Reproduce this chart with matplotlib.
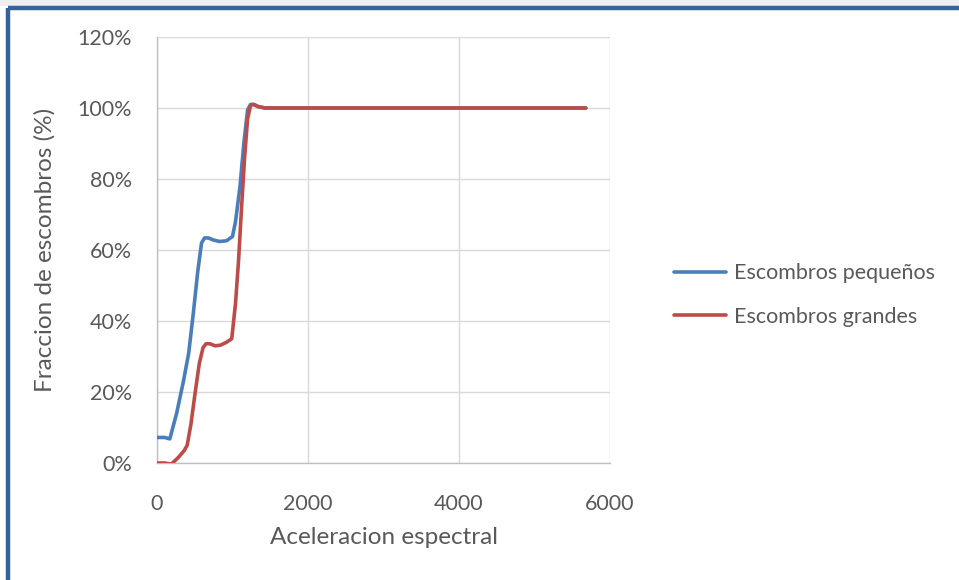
import matplotlib
matplotlib.use("Agg")
import matplotlib.pyplot as plt
from matplotlib.patches import Rectangle
from matplotlib.lines import Line2D
from matplotlib.ticker import FuncFormatter

plt.rcParams['font.family'] = ['Lato', 'DejaVu Sans']

# --- values (x: aceleracion, y: fraccion %) ---
x_pequenos = [0, 100, 170, 260, 350, 420, 480, 540, 590, 630, 680, 750, 830, 920,
              1000, 1040, 1100, 1150, 1200, 1240, 1280, 1340, 1430, 2000, 4000, 5680]
y_pequenos = [7.2, 7.2, 6.8, 14.0, 23.0, 31.0, 42.0, 54.0, 62.0, 63.4, 63.4, 62.8, 62.4, 62.6,
              63.8, 68.0, 78.0, 90.0, 99.5, 101.0, 101.0, 100.4, 100.0, 100.0, 100.0, 100.0]

x_grandes = [0, 100, 190, 280, 360, 400, 450, 500, 560, 610, 650, 700, 770, 840, 920,
             990, 1040, 1080, 1120, 1160, 1200, 1240, 1280, 1340, 1430, 2000, 4000, 5680]
y_grandes = [0.0, 0.0, -0.3, 1.5, 3.5, 5.0, 11.0, 19.0, 28.0, 32.5, 33.6, 33.6, 33.0, 33.2, 34.0,
             35.0, 45.0, 57.0, 72.0, 86.0, 97.0, 100.8, 101.0, 100.4, 100.0, 100.0, 100.0, 100.0]

series_names = ['Escombros pequeños', 'Escombros grandes']
series_colors = ['#4A7EBB', '#BE4B48']
x_ticks = [0, 2000, 4000, 6000]
y_ticks = [0, 20, 40, 60, 80, 100, 120]

text_color = '#595959'
grid_color = '#D9D9D9'

fig = plt.figure(figsize=(9.59, 5.80), dpi=100)
fig.patch.set_facecolor('white')

# light strip on top and blue frame (top + left visible)
fig.patches.append(Rectangle((0, 1 - 6 / 580), 1, 6 / 580, transform=fig.transFigure,
                             facecolor='#EFEFEF', edgecolor='none', zorder=0))
fig.lines.append(Line2D([8 / 959, 8 / 959], [0, 1 - 8 / 580], transform=fig.transFigure,
                        color='#35629A', linewidth=3.2, solid_capstyle='butt'))
fig.lines.append(Line2D([8 / 959, 1], [1 - 8 / 580, 1 - 8 / 580], transform=fig.transFigure,
                        color='#35629A', linewidth=3.2, solid_capstyle='butt'))

ax = fig.add_axes([157 / 959, 1 - 463 / 580, (610 - 157) / 959, (463 - 37) / 580])

ax.plot(x_pequenos, y_pequenos, color=series_colors[0], linewidth=2.6,
        label=series_names[0], solid_joinstyle='round', solid_capstyle='round', zorder=3)
ax.plot(x_grandes, y_grandes, color=series_colors[1], linewidth=2.6,
        label=series_names[1], solid_joinstyle='round', solid_capstyle='round', zorder=4)

ax.set_xlim(0, 6000)
ax.set_ylim(0, 120)
ax.set_xticks(x_ticks)
ax.set_yticks(y_ticks)
ax.yaxis.set_major_formatter(FuncFormatter(lambda v, p: f"{v:.0f}%"))
ax.grid(True, color=grid_color, linewidth=1.0)
ax.set_axisbelow(True)

for side in ['top', 'right']:
    ax.spines[side].set_visible(False)
for side in ['left', 'bottom']:
    ax.spines[side].set_color('#BFBFBF')
    ax.spines[side].set_linewidth(1.0)

ax.tick_params(axis='both', length=0, colors=text_color, labelsize=15.5)
ax.tick_params(axis='x', pad=22)
ax.tick_params(axis='y', pad=18)

ax.set_xlabel('Aceleracion espectral', fontsize=17.5, color=text_color, labelpad=10)
ax.set_ylabel('Fraccion de escombros (%)', fontsize=17.5, color=text_color, labelpad=16)

leg = ax.legend(loc='center left', bbox_to_anchor=(655 / 959, 1 - 295 / 580),
                bbox_transform=fig.transFigure, frameon=False, fontsize=15.5,
                labelcolor=text_color, handlelength=2.4, handletextpad=0.35,
                labelspacing=1.1)

fig.savefig('out.png', dpi=100)
